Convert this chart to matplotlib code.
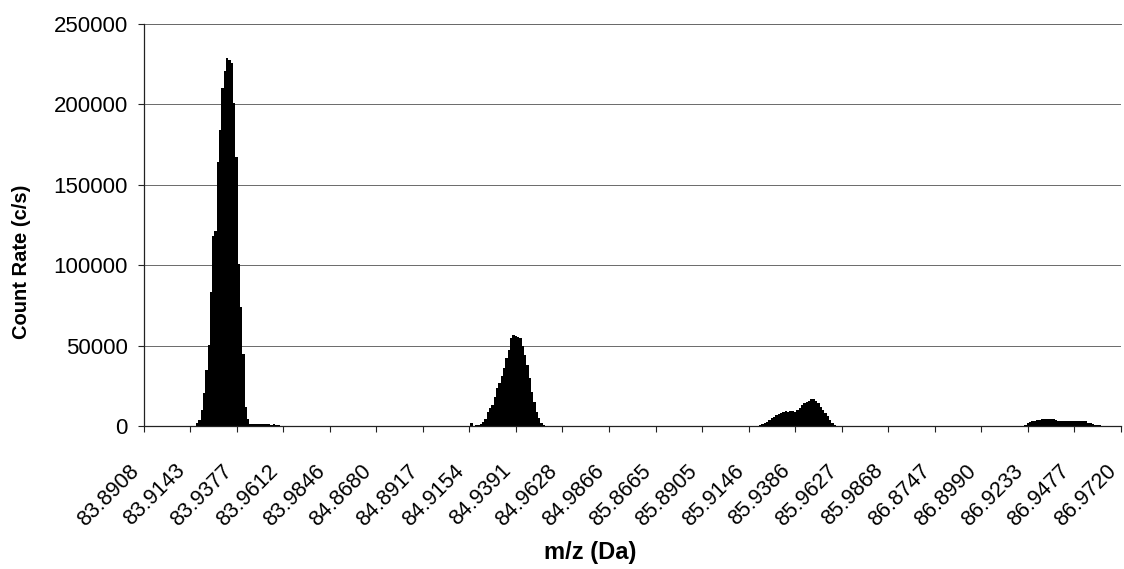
import matplotlib
matplotlib.use("Agg")
import matplotlib.pyplot as plt
import numpy as np
from matplotlib.transforms import ScaledTranslation

plt.rcParams["font.family"] = ["Liberation Sans", "DejaVu Sans"]

# m/z labels shown every 20 scan bins along the category axis
tick_labels = [
    "83.8908", "83.9143", "83.9377", "83.9612", "83.9846",
    "84.8680", "84.8917", "84.9154", "84.9391", "84.9628", "84.9866",
    "85.8665", "85.8905", "85.9146", "85.9386", "85.9627", "85.9868",
    "86.8747", "86.8990", "86.9233", "86.9477", "86.9720",
]
bins_per_label = 20

# Count rates (c/s) of each isotope peak, starting at the given scan bin
peak84_start = 23
peak84_counts = [2000, 3700, 10000, 20300, 34800, 50400, 83500, 118000, 121000,
                 164400, 184000, 210000, 221000, 228700, 227500, 226000, 201000,
                 167000, 101000, 74000, 45000, 12000, 4500,
                 1500, 1200, 1100, 1000, 1100, 1000, 1000, 1100, 1000, 900, 1000,
                 800, 600]

peak85_start = 141
peak85_counts = [2000, 0, 500, 800, 1500, 2500, 4500, 8900, 11000, 13000,
                 18200, 23400, 27000, 31000, 36000, 42000, 47300, 54500, 56600,
                 56000, 55500, 54500, 50000, 44000, 38000, 29700, 21300, 15000,
                 9000, 5000, 2000, 500]

peak86_start = 265
peak86_counts = [500, 1200, 1800, 2700, 3500, 4800, 5800, 6800, 7500, 7900,
                 8500, 9500, 8900, 9300, 9500, 8900, 10000, 11000, 13000, 14500,
                 15000, 15700, 16600, 16600, 15500, 14000, 12000, 10000, 8000,
                 6000, 3700, 2000, 800]

peak87_start = 379
peak87_counts = [800, 1700, 2300, 3100, 3400, 3700, 4000, 4300, 4400, 4300,
                 4400, 4300, 4200, 4000, 3300, 3100, 3200, 3100, 3100, 3000,
                 3100, 3100, 3000, 3100, 3000, 3000, 2800, 1700, 1700, 1000,
                 800, 800, 600, 300]

n_bins = bins_per_label * (len(tick_labels) - 1) + 1
counts = np.zeros(n_bins)
for start, vals in [(peak84_start, peak84_counts), (peak85_start, peak85_counts),
                    (peak86_start, peak86_counts), (peak87_start, peak87_counts)]:
    counts[start:start + len(vals)] = vals

W, H = 1124, 569
fig = plt.figure(figsize=(W / 100, H / 100), dpi=100)
left, right, top, bottom = 143.5, 1121, 24, 426
ax = fig.add_axes([left / W, 1 - bottom / H, (right - left) / W, (bottom - top) / H])

# contiguous columns, one per scan bin, centred on the bin index
edges = np.arange(n_bins + 1) - 0.5
ax.stairs(counts, edges, fill=True, color="black", linewidth=0, zorder=3)

ax.set_xlim(0, n_bins - 1)
ax.set_ylim(0, 250000)
ax.set_yticks(np.arange(0, 250001, 50000))
ax.set_yticklabels([f"{v:d}" for v in range(0, 250001, 50000)], fontsize=16)
ax.grid(axis="y", color="#6a6a6a", linewidth=0.7, zorder=1)
ax.grid(axis="x", visible=False)

ax.spines["right"].set_visible(False)
ax.spines["top"].set_color("#6a6a6a")
ax.spines["top"].set_linewidth(0.7)
for side in ("left", "bottom"):
    ax.spines[side].set_color("#222222")
    ax.spines[side].set_linewidth(0.9)
    ax.spines[side].set_zorder(4)

ax.tick_params(axis="y", direction="out", length=4.3, width=0.8, color="#222222", pad=6.9)
ax.tick_params(axis="x", direction="out", length=4.3, width=0.8, color="#222222", pad=20.5)

ax.set_xticks(np.arange(0, n_bins, bins_per_label))
ax.set_xticklabels(tick_labels, fontsize=15.5, rotation=45, ha="right", va="top",
                   rotation_mode="anchor")
shift = ScaledTranslation(-11 / 72, 0, fig.dpi_scale_trans)
for lbl in ax.get_xticklabels():
    lbl.set_transform(lbl.get_transform() + shift)

fig.text(22 / W, 1 - 262 / H, "Count Rate (c/s)", rotation=90, ha="center",
         va="center", fontsize=14.5, fontweight="bold")
fig.text(590 / W, 1 - 553 / H, "m/z (Da)", ha="center", va="center",
         fontsize=17, fontweight="bold")

fig.savefig("out.png", dpi=100)
